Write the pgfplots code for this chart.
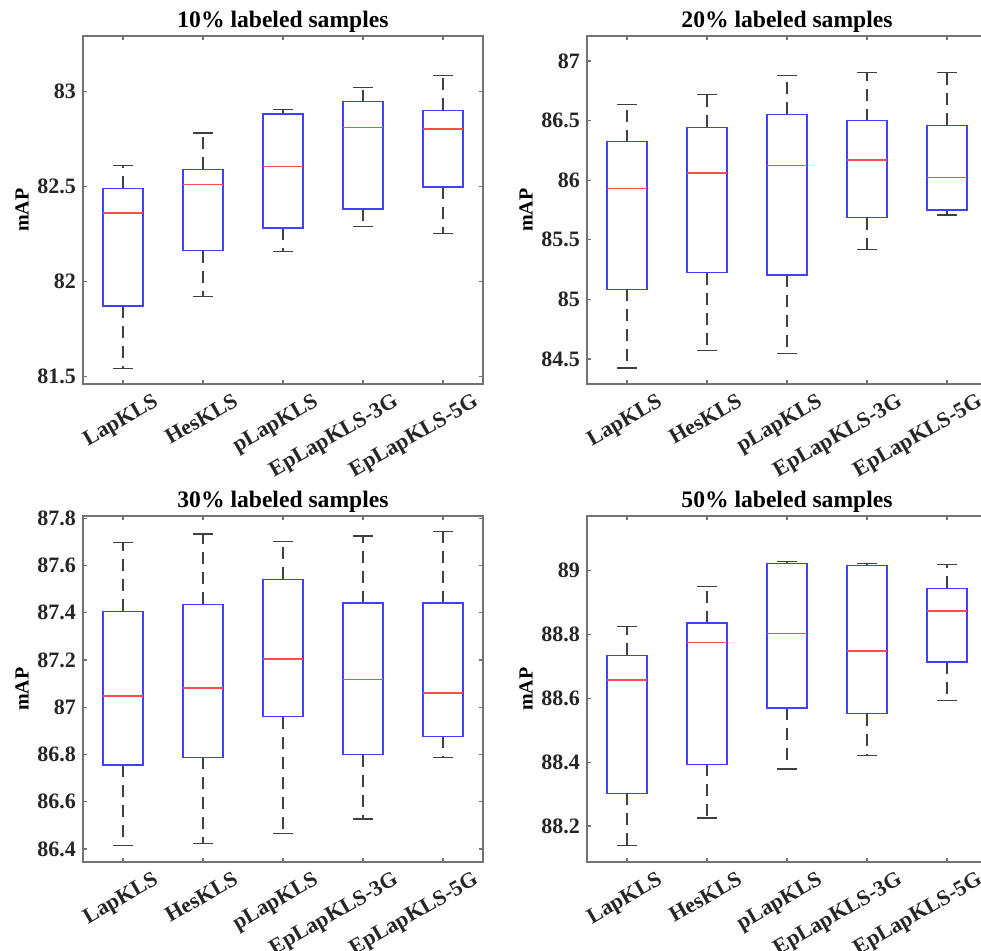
\documentclass[border=0pt]{standalone}
\usepackage{pgfplots}
\pgfplotsset{compat=1.18}
\usepgfplotslibrary{statistics}
\usepackage{fontspec}
\setmainfont{Liberation Serif}

\definecolor{axgray}{gray}{0.45}
\definecolor{boxblue}{rgb}{0.25,0.25,1}
\definecolor{medred}{rgb}{1,0.3,0.3}

% one box: position, lower whisker, Q1, median, Q3, upper whisker
\newcommand{\bp}[6]{\addplot[boxplot prepared={draw position=#1,
  lower whisker=#2, lower quartile=#3, median=#4,
  upper quartile=#5, upper whisker=#6}] coordinates {};}

\pgfplotsset{
  panel/.style={
    scale only axis, width=200pt, height=174pt,
    xmin=0.5, xmax=5.5, xtick={1,2,3,4,5},
    xticklabels={LapKLS,HesKLS,pLapKLS,EpLapKLS-3G,EpLapKLS-5G},
    tick align=inside, major tick length=2pt,
    axis line style={axgray, line width=0.6pt},
    every tick/.style={axgray, line width=0.6pt},
    ticklabel style={font=\bfseries\fontsize{11}{13}\selectfont, black!85},
    /pgf/number format/assume math mode=true,
    yticklabel style={/pgf/number format/fixed},
    xticklabel style={xshift=14.5pt, yshift=-4pt, rotate=30, anchor=north east, inner sep=0pt},
    ylabel={mAP},
    ylabel style={font=\bfseries\fontsize{10}{12}\selectfont,
      at={(axis description cs:-0.1525,0.5)}, anchor=center},
    title style={font=\bfseries\fontsize{11.8}{14}\selectfont,
      at={(axis description cs:0.5,1)}, anchor=south, inner sep=0pt, yshift=-4.5pt},
    boxplot/draw direction=y,
    boxplot/box extend=0.5,
    boxplot/whisker extend=0.25,
    boxplot/every box/.style={draw=boxblue, line width=0.6pt},
    boxplot/every median/.style={draw=medred, line width=0.7pt},
    boxplot/draw/lower whisker/.code={
      \draw[black!75, line width=0.6pt, dash pattern=on 6pt off 4pt]
        (boxplot box cs:\pgfplotsboxplotvalue{lower quartile},0.5) --
        (boxplot box cs:\pgfplotsboxplotvalue{lower whisker},0.5);
      \draw[black!75, line width=0.6pt]
        (boxplot whisker cs:\pgfplotsboxplotvalue{lower whisker},0) --
        (boxplot whisker cs:\pgfplotsboxplotvalue{lower whisker},1);
    },
    boxplot/draw/upper whisker/.code={
      \draw[black!75, line width=0.6pt, dash pattern=on 6pt off 4pt]
        (boxplot box cs:\pgfplotsboxplotvalue{upper quartile},0.5) --
        (boxplot box cs:\pgfplotsboxplotvalue{upper whisker},0.5);
      \draw[black!75, line width=0.6pt]
        (boxplot whisker cs:\pgfplotsboxplotvalue{upper whisker},0) --
        (boxplot whisker cs:\pgfplotsboxplotvalue{upper whisker},1);
    },
  }
}

\begin{document}
\begin{tikzpicture}
\useasboundingbox (0,0) rectangle (490.5pt,475pt);
\fill[white] (0,0) rectangle (490.5pt,475pt);
\clip (0,0) rectangle (490.5pt,475pt);

% 10%
\begin{axis}[panel, at={(41.5pt,283pt)}, anchor=south west,
  title={10\% labeled samples},
  ymin=81.46, ymax=83.29, ytick={81.5,82,82.5,83}]
\bp{1}{81.54}{81.87}{82.36}{82.49}{82.61}
\bp{2}{81.92}{82.16}{82.51}{82.59}{82.78}
\bp{3}{82.155}{82.28}{82.605}{82.88}{82.905}
\bp{4}{82.29}{82.38}{82.81}{82.945}{83.02}
\bp{5}{82.25}{82.496}{82.80}{82.90}{83.084}
\end{axis}

% 20%
\begin{axis}[panel, at={(293.5pt,283pt)}, anchor=south west,
  title={20\% labeled samples},
  ymin=84.29, ymax=87.21, ytick={84.5,85,85.5,86,86.5,87}]
\bp{1}{84.424}{85.084}{85.932}{86.323}{86.634}
\bp{2}{84.573}{85.224}{86.06}{86.444}{86.72}
\bp{3}{84.545}{85.205}{86.125}{86.553}{86.877}
\bp{4}{85.417}{85.686}{86.17}{86.50}{86.905}
\bp{5}{85.708}{85.75}{86.024}{86.46}{86.905}
\end{axis}

% 30%
\begin{axis}[panel, height=173pt, at={(41.5pt,44pt)}, anchor=south west,
  title={30\% labeled samples},
  ymin=86.345, ymax=87.81, ytick={86.4,86.6,86.8,87,87.2,87.4,87.6,87.8}]
\bp{1}{86.414}{86.756}{87.048}{87.406}{87.697}
\bp{2}{86.424}{86.789}{87.082}{87.437}{87.734}
\bp{3}{86.465}{86.96}{87.204}{87.542}{87.703}
\bp{4}{86.527}{86.80}{87.117}{87.442}{87.725}
\bp{5}{86.789}{86.877}{87.06}{87.442}{87.745}
\end{axis}

% 50%
\begin{axis}[panel, height=173pt, at={(293.5pt,44pt)}, anchor=south west,
  title={50\% labeled samples},
  ymin=88.0875, ymax=89.171, ytick={88.2,88.4,88.6,88.8,89}]
\bp{1}{88.139}{88.303}{88.658}{88.735}{88.826}
\bp{2}{88.225}{88.393}{88.775}{88.836}{88.949}
\bp{3}{88.379}{88.570}{88.804}{89.023}{89.029}
\bp{4}{88.42}{88.552}{88.748}{89.015}{89.023}
\bp{5}{88.593}{88.714}{88.873}{88.945}{89.019}
\end{axis}
\end{tikzpicture}
\end{document}
